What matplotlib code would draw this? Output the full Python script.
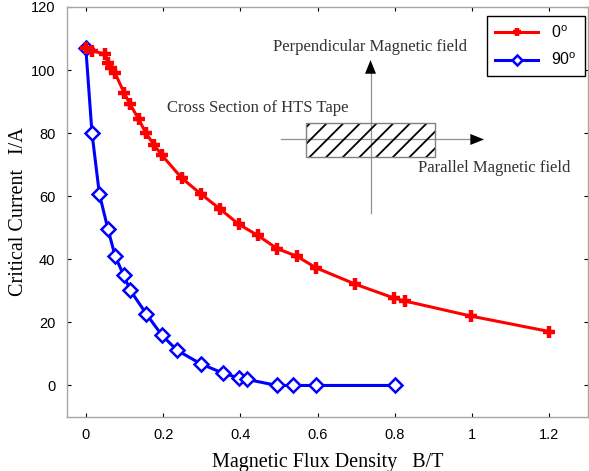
import matplotlib
matplotlib.use("Agg")
import matplotlib.pyplot as plt
from matplotlib.patches import Rectangle

# Critical current of an HTS tape vs. applied field, two field angles
b_par = [0, 0.016, 0.05, 0.058, 0.065, 0.075, 0.1, 0.115, 0.137, 0.156,
         0.176, 0.197, 0.248, 0.297, 0.347, 0.396, 0.445, 0.495, 0.546,
         0.596, 0.698, 0.798, 0.825, 0.997, 1.2]
ic_par = [107, 106.1, 105.1, 102.1, 100.5, 99.2, 92.6, 89.1, 84.4, 79.9,
          76.4, 73, 65.8, 60.8, 56, 51.1, 47.6, 43.4, 41, 37.3,
          32.1, 27.7, 26.8, 22, 17.1]

b_perp = [0, 0.016, 0.035, 0.057, 0.076, 0.098, 0.115, 0.156, 0.197, 0.237,
          0.297, 0.355, 0.396, 0.418, 0.495, 0.536, 0.596, 0.8]
ic_perp = [107, 80, 60.8, 49.7, 41, 34.9, 30.2, 22.8, 15.9, 11.1,
           6.9, 3.9, 2.4, 1.9, 0, 0, 0, 0]

labels = ["0$^\\mathrm{o}$", "90$^\\mathrm{o}$"]
x_ticks = [0, 0.2, 0.4, 0.6, 0.8, 1, 1.2]
y_ticks = [0, 20, 40, 60, 80, 100, 120]

plt.rcParams["font.family"] = ["Liberation Sans", "DejaVu Sans"]
plt.rcParams["mathtext.fontset"] = "custom"
plt.rcParams["mathtext.rm"] = "Liberation Sans"
plt.rcParams["hatch.linewidth"] = 1.3

fig = plt.figure(figsize=(5.89, 4.71), dpi=100)
ax = fig.add_axes([66.5 / 589, 54 / 471, (588 - 66.5) / 589, 410 / 471])

l90, = ax.plot(b_perp, ic_perp, color="blue", lw=2.2, marker="D", ms=7,
               mew=1.8, mfc="white", mec="blue", zorder=3)
l0, = ax.plot(b_par, ic_par, color="red", lw=2.2, marker="+", ms=9,
              mew=3.2, zorder=4)

ax.set_xlim(-0.05, 1.3)
ax.set_ylim(-10, 120)
ax.set_xticks(x_ticks)
ax.set_xticklabels(["0", "0.2", "0.4", "0.6", "0.8", "1", "1.2"])
ax.set_yticks(y_ticks)
ax.tick_params(direction="in", length=3, width=0.8, color="black",
               top=True, right=True, labelsize=10.5, pad=8)
for sp in ax.spines.values():
    sp.set_color("#a6a6a6")
    sp.set_linewidth(1.0)

serif = ["Liberation Serif", "DejaVu Serif"]
ax.set_xlabel("Magnetic Flux Density   B/T", family=serif, fontsize=14.5,
              labelpad=8)
ax.set_ylabel("Critical Current   I/A", family=serif, fontsize=14.5,
              labelpad=2)

leg = ax.legend([l0, l90], labels, loc="upper right",
                bbox_to_anchor=(0.994, 0.978), borderaxespad=0,
                fancybox=False, framealpha=1, edgecolor="black",
                fontsize=11.5, handlelength=2.7, labelspacing=0.7,
                borderpad=0.5, markerscale=0.7)
leg.get_frame().set_linewidth(1.0)

# Inset sketch: tape cross section with the two field directions
ax.plot([0.737, 0.737], [54.6, 99], color="#909090", lw=0.9, zorder=1)
ax.plot([0.504, 1.0], [78, 78], color="#909090", lw=0.9, zorder=1)
head = dict(arrowstyle="-|>,head_length=0.55,head_width=0.22",
            color="black", lw=0, mutation_scale=18, shrinkA=0, shrinkB=0)
ax.annotate("", xy=(0.737, 103.2), xytext=(0.737, 96), arrowprops=head)
ax.annotate("", xy=(1.031, 78), xytext=(0.99, 78), arrowprops=head)

ax.add_patch(Rectangle((0.570, 72.5), 0.334, 10.8, fill=False,
                       hatch="//", edgecolor="black", lw=0, zorder=2))
ax.add_patch(Rectangle((0.570, 72.5), 0.334, 10.8, fill=False,
                       edgecolor="#808080", lw=1.0, zorder=2))

ax.text(0.736, 107.4, "Perpendicular Magnetic field", family=serif,
        fontsize=12, ha="center", va="center", color="#333333")
ax.text(0.211, 87.9, "Cross Section of HTS Tape", family=serif,
        fontsize=12, ha="left", va="center", color="#333333")
ax.text(0.860, 68.9, "Parallel Magnetic field", family=serif,
        fontsize=12, ha="left", va="center", color="#333333")

fig.savefig("out.png", dpi=100)
